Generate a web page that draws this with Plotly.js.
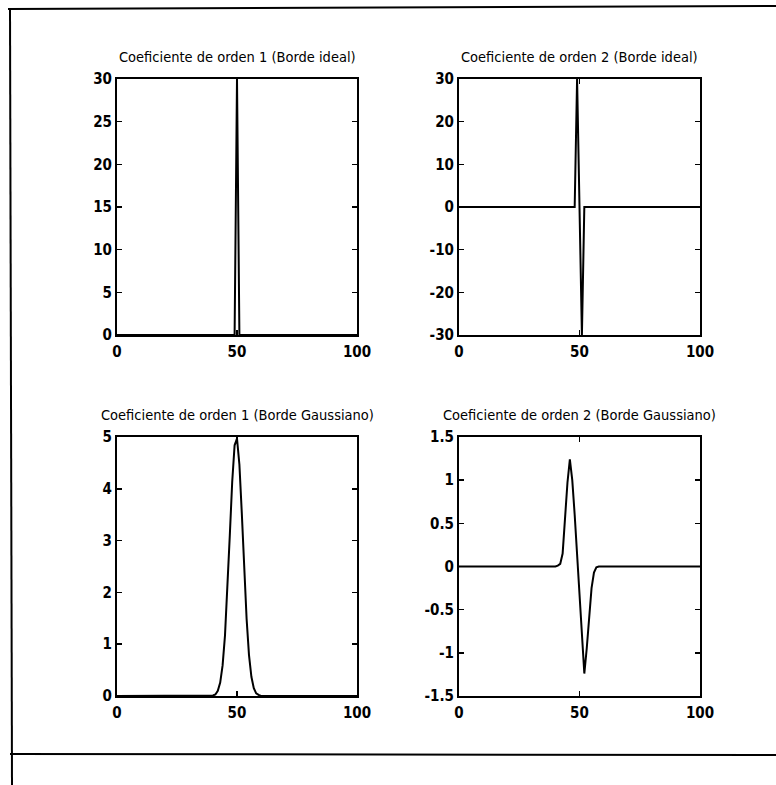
<!DOCTYPE html>
<html>
<head>
<meta charset="utf-8">
<script src="https://cdn.plot.ly/plotly-3.0.1.min.js"></script>
<style>html,body{margin:0;padding:0;background:#fff;}#plot{width:776px;height:785px;}</style>
</head>
<body>
<div id="plot"></div>
<script>
// Panel titles
const titles = [
  "Coeficiente de orden 1 (Borde ideal)",
  "Coeficiente de orden 2 (Borde ideal)",
  "Coeficiente de orden 1 (Borde Gaussiano)",
  "Coeficiente de orden 2 (Borde Gaussiano)"
];

// Panel 1: first-order coefficient, ideal edge
const x1 = [0, 49, 50, 51, 100];
const y1 = [0, 0, 30, 0, 0];

// Panel 2: second-order coefficient, ideal edge
const x2 = [0, 48, 49, 50, 51, 52, 100];
const y2 = [0, 0, 30, 0, -30, 0, 0];

// Panel 3: first-order coefficient, Gaussian edge
const x3 = [0, 40, 41, 42, 43, 44, 45, 46, 47, 48, 49, 50, 51, 52, 53, 54, 55, 56, 57, 58, 59, 60, 100];
const y3 = [0, 0.01, 0.03, 0.1, 0.26, 0.59, 1.17, 2.04, 3.1, 4.13, 4.84, 4.97, 4.47, 3.53, 2.45, 1.49, 0.79, 0.37, 0.15, 0.05, 0.02, 0, 0];

// Panel 4: second-order coefficient, Gaussian edge
const x4 = [0, 40, 41, 42, 43, 44, 45, 46, 47, 48, 49, 50, 51, 52, 53, 54, 55, 56, 57, 58, 100];
const y4 = [0, 0, 0.01, 0.03, 0.15, 0.58, 0.97, 1.24, 1.0, 0.6, 0.15, -0.3, -0.72, -1.24, -0.95, -0.55, -0.25, -0.07, -0.01, 0, 0];

// Axis ticks and labels
const xTicks = [0, 50, 100];
const yTicks1 = [0, 5, 10, 15, 20, 25, 30];
const yTicks2 = [-30, -20, -10, 0, 10, 20, 30];
const yTickText2 = ["-30", "-20", "-10", "0", "10", "20", "30"];
const yTicks3 = [0, 1, 2, 3, 4, 5];
const yTicks4 = [-1.5, -1, -0.5, 0, 0.5, 1, 1.5];
const yTickText4 = ["-1.5", "-1", "-0.5", "0", "0.5", "1", "1.5"];

const W = 776, H = 785;
const px = v => v / W;
const py = v => 1 - v / H;

const fam = "'DejaVu Sans Condensed', 'Liberation Sans Narrow', 'Liberation Sans', Arial, sans-serif";
const tickFont = {family: fam, size: 15, color: "#000", weight: "bold"};
const titleFont = {family: fam, size: 14.5, color: "#000"};

const lineStyle = {color: "#000", width: 2};
const traces = [
  {x: x1, y: y1, xaxis: "x", yaxis: "y"},
  {x: x2, y: y2, xaxis: "x2", yaxis: "y2"},
  {x: x3, y: y3, xaxis: "x3", yaxis: "y3"},
  {x: x4, y: y4, xaxis: "x4", yaxis: "y4"}
].map(t => Object.assign(t, {type: "scatter", mode: "lines", line: lineStyle, showlegend: false, hoverinfo: "none"}));

function xa(domain, anchor) {
  return {domain: domain, anchor: anchor, range: [0, 100], tickvals: xTicks, ticks: "inside", ticklen: 5,
    tickwidth: 1.5, tickcolor: "#000", showline: true, linecolor: "#000", linewidth: 2, mirror: "ticks",
    showgrid: false, zeroline: false, tickfont: tickFont, ticklabelstandoff: 2, fixedrange: true};
}
function ya(domain, anchor, range, vals, text) {
  const a = {domain: domain, anchor: anchor, range: range, tickvals: vals, ticks: "inside", ticklen: 5,
    tickwidth: 1.5, tickcolor: "#000", showline: true, linecolor: "#000", linewidth: 2, mirror: "ticks",
    showgrid: false, zeroline: false, tickfont: tickFont, ticklabelstandoff: 0, fixedrange: true};
  if (text) a.ticktext = text;
  return a;
}

const dxL = [px(117), px(357)];
const dxR = [px(459), px(700)];
const dyT = [py(335), py(79)];
const dyB = [py(696), py(437)];

const annotations = [
  [titles[0], (117 + 357) / 2, 79],
  [titles[1], (459 + 700) / 2, 79],
  [titles[2], (117 + 357) / 2, 437],
  [titles[3], (459 + 700) / 2, 437]
].map(a => ({text: a[0], x: px(a[1]), y: py(a[2]), xref: "paper", yref: "paper", xanchor: "center", yanchor: "bottom",
  yshift: 12, showarrow: false, font: titleFont}));

const shapes = [
  {type: "line", xref: "paper", yref: "paper", x0: px(8), x1: 1, y0: py(9), y1: py(6), line: {color: "#000", width: 2}},
  {type: "line", xref: "paper", yref: "paper", x0: px(10), x1: px(12), y0: py(8), y1: 0, line: {color: "#000", width: 2}},
  {type: "line", xref: "paper", yref: "paper", x0: px(10), x1: 1, y0: py(754), y1: py(755), line: {color: "#000", width: 2}}
];

const layout = {
  width: W, height: H, margin: {l: 0, r: 0, t: 0, b: 0},
  paper_bgcolor: "#fff", plot_bgcolor: "#fff",
  showlegend: false,
  xaxis: xa(dxL, "y"), yaxis: ya(dyT, "x", [0, 30], yTicks1),
  xaxis2: xa(dxR, "y2"), yaxis2: ya(dyT, "x2", [-30, 30], yTicks2, yTickText2),
  xaxis3: xa(dxL, "y3"), yaxis3: ya(dyB, "x3", [0, 5], yTicks3),
  xaxis4: xa(dxR, "y4"), yaxis4: ya(dyB, "x4", [-1.5, 1.5], yTicks4, yTickText4),
  annotations: annotations,
  shapes: shapes
};

Plotly.newPlot("plot", traces, layout, {staticPlot: true, displayModeBar: false});
</script>
</body>
</html>
